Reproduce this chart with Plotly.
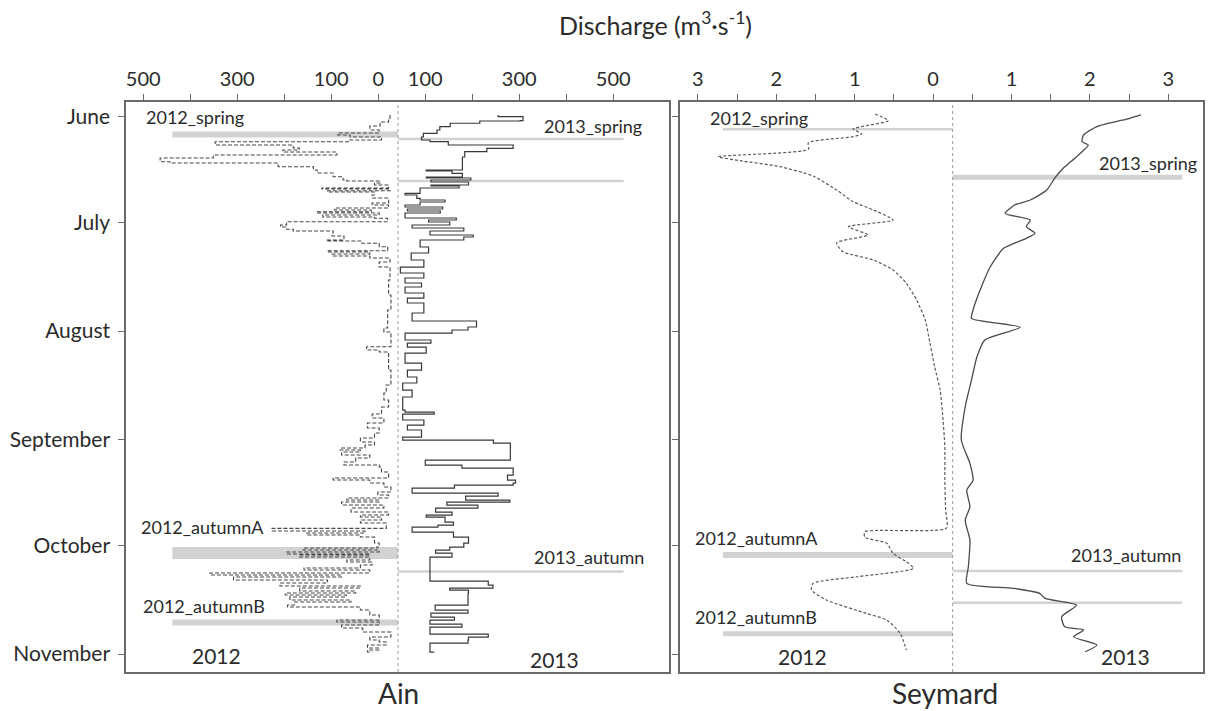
import plotly.graph_objects as go

# ---------------- data ----------------
months = ["June", "July", "August", "September", "October", "November"]
month_days = [0, 30, 61, 92, 122, 153]  # days since 1 June

# Ain 2012 (day since 1 June, discharge m3/s)
ain_2012_day = [-0.57, 0.57, 1.42, 2.56, 3.70, 4.56, 5.13, 5.70, 6.55, 7.04,
                7.98, 8.83, 9.40, 9.97, 10.83, 11.68, 12.74, 13.11, 14.16, 15.10,
                15.95, 17.01, 17.95, 18.23, 18.80, 19.37, 20.23, 20.51, 21.00, 21.37,
                22.22, 23.08, 24.50, 25.07, 25.93, 26.50, 26.98, 27.35, 27.92, 28.49,
                28.86, 29.83, 30.77, 31.34, 31.99, 32.48, 33.05, 33.90, 35.04, 35.33,
                35.98, 36.95, 38.09, 38.46, 39.03, 39.60, 40.17, 41.31, 42.74, 46.44,
                50.71, 54.99, 60.11, 61.25, 65.44, 66.38, 66.95, 72.08, 76.35, 78.63,
                80.63, 82.62, 84.62, 85.75, 87.18, 88.60, 90.03, 91.45, 92.59, 93.45,
                94.30, 94.87, 95.44, 96.30, 97.15, 98.29, 99.15, 99.72, 101.14, 102.85,
                103.42, 104.27, 105.41, 106.84, 107.69, 108.55, 109.12, 109.69, 110.54, 111.40,
                112.54, 113.39, 113.96, 114.81, 115.67, 117.18, 117.95, 118.52, 119.09, 119.66,
                121.37, 122.51, 122.79, 123.36, 123.93, 124.50, 124.79, 125.36, 126.21, 126.78,
                127.64, 128.49, 129.06, 129.91, 130.48, 131.05, 131.91, 132.76, 133.62, 134.19,
                135.04, 135.61, 136.18, 136.75, 137.61, 138.18, 139.03, 139.60, 140.46, 141.88,
                143.30, 143.87, 144.73, 145.58, 146.72, 148.15, 149.00, 149.57, 150.43, 151.28,
                151.85, 152.42]
ain_2012_q = [17, 20, 38, 60, 40, 128, 102, 35, 106, 389,
              223, 210, 245, 130, 393, 506, 485, 255, 180, 172,
              138, 117, 109, 38, 50, 20, 162, 17, 150, 50,
              55, 20, 55, 20, 135, 57, 173, 40, 160, 50,
              22, 237, 250, 237, 223, 138, 140, 115, 152, 77,
              40, 22, 150, 60, 140, 60, 17, 40, 17, 20,
              15, 22, 30, 15, 67, 40, 20, 15, 25, 30,
              20, 35, 55, 30, 65, 40, 50, 80, 50, 70,
              123, 80, 120, 60, 90, 115, 40, 35, 20, 138,
              60, 30, 15, 43, 20, 109, 40, 120, 30, 100,
              20, 80, 35, 80, 25, 268, 70, 194, 80, 50,
              40, 45, 202, 40, 237, 60, 210, 60, 109, 55,
              80, 200, 60, 400, 120, 350, 150, 251, 80, 209,
              90, 240, 110, 230, 100, 220, 235, 80, 60, 40,
              130, 40, 120, 75, 15, 60, 40, 25, 65, 40,
              65, 55]

# Ain 2013
ain_2013_day = [-0.57, -0.09, 1.05, 1.14, 1.79, 2.76, 3.70, 4.64, 5.70, 6.55,
                7.04, 7.98, 8.92, 9.89, 11.40, 14.25, 15.10, 15.38, 16.04, 17.09,
                17.38, 17.95, 18.52, 19.37, 19.66, 20.23, 21.74, 22.22, 23.16, 23.65,
                24.22, 25.07, 25.64, 26.21, 26.78, 27.35, 28.77, 29.34, 29.91, 30.77,
                31.62, 32.48, 33.62, 34.19, 35.04, 37.04, 38.75, 40.74, 42.74, 44.44,
                45.87, 47.29, 48.43, 50.14, 51.57, 52.99, 55.84, 57.26, 58.12, 59.83,
                60.68, 61.54, 63.53, 64.39, 65.53, 67.24, 70.09, 72.08, 74.07, 75.78,
                77.78, 79.77, 83.48, 84.05, 84.62, 86.32, 87.75, 89.17, 91.17, 92.02,
                92.88, 96.87, 97.72, 99.15, 100.00, 101.99, 103.42, 104.27, 104.84, 105.70,
                107.12, 107.98, 109.12, 109.69, 110.54, 111.40, 112.54, 113.39, 113.96, 115.38,
                116.24, 116.81, 118.23, 119.66, 121.37, 122.51, 123.36, 124.22, 125.36, 126.21,
                131.91, 132.19, 133.33, 134.19, 134.76, 135.61, 138.46, 139.03, 140.46, 141.31,
                142.45, 143.30, 144.44, 145.30, 146.15, 147.29, 148.15, 149.00, 149.86, 152.42]
ain_2013_q = [213, 266, 260, 174, 111, 89, 83, 54, 50, 68,
              107, 245, 189, 142, 137, 137, 60, 115, 137, 60,
              155, 70, 150, 70, 130, 47, 15, 40, 47, 100,
              47, 15, 95, 20, 90, 15, 124, 65, 110, 30,
              140, 68, 160, 140, 47, 65, 28, 55, 5, 55,
              15, 50, 15, 55, 20, 55, 30, 30, 167, 149,
              115, 15, 70, 20, 60, 15, 50, 20, 40, 10,
              30, 10, 15, 77, 10, 55, 20, 50, 10, 203,
              239, 239, 58, 136, 245, 233, 250, 245, 120, 30,
              213, 144, 238, 104, 170, 80, 115, 60, 100, 118,
              85, 30, 118, 150, 140, 110, 80, 115, 68, 68,
              68, 192, 202, 110, 150, 149, 149, 79, 149, 70,
              120, 68, 136, 68, 68, 192, 150, 149, 68, 77]

# Seymard 2012
sey_2012_day = [-0.85, 1.05, 3.42, 4.84, 5.61, 7.32, 9.20, 11.31, 12.45, 14.16,
                16.81, 20.80, 24.13, 26.50, 29.34, 31.25, 33.62, 35.81, 38.38, 40.74,
                43.59, 47.38, 52.14, 57.83, 64.39, 71.14, 77.78, 84.33, 94.0, 103.4,
                112.0, 117.1, 118.15, 119.74, 121.45, 124.30, 126.70, 128.58, 130.97, 132.85,
                134.76, 137.61, 141.40, 143.30, 147.09, 151.85]
sey_2012_q = [0.99, 0.82, 1.27, 1.16, 1.27, 1.84, 1.84, 2.99, 2.71, 2.20,
              1.78, 1.48, 1.27, 1.01, 0.76, 1.33, 1.08, 1.48, 1.40, 1.01,
              0.76, 0.59, 0.46, 0.35, 0.29, 0.23, 0.16, 0.13, 0.10, 0.10,
              0.09, 0.08, 1.12, 1.12, 0.84, 0.76, 0.59, 0.50, 1.22, 1.78,
              1.80, 1.61, 1.10, 0.84, 0.67, 0.59]

# Seymard 2013
sey_2013_day = [-0.57, 0.37, 2.76, 5.13, 7.04, 7.98, 11.31, 14.62, 17.46, 20.80,
                23.65, 25.07, 27.44, 29.34, 31.25, 33.13, 34.56, 37.41, 42.65, 49.29,
                54.99, 57.35, 59.91, 63.53, 68.29, 74.93, 82.54, 92.02, 98.66, 103.42,
                106.27, 111.03, 114.81, 120.51, 128.12, 132.85, 134.27, 135.70, 137.12, 139.03,
                142.36, 145.21, 146.15, 148.06, 150.43, 152.34]
sey_2013_q = [2.40, 2.26, 1.84, 1.67, 1.65, 1.73, 1.58, 1.41, 1.30, 1.20,
              0.99, 0.79, 0.67, 0.99, 0.94, 1.05, 0.94, 0.65, 0.48, 0.35,
              0.26, 0.24, 0.86, 0.41, 0.31, 0.24, 0.16, 0.11, 0.22, 0.26,
              0.18, 0.22, 0.16, 0.22, 0.20, 0.18, 0.77, 1.11, 1.18, 1.58,
              1.39, 1.43, 1.67, 1.54, 1.84, 1.69]

# sampling periods (day since 1 June, year)
ain_period_day = [5.0, 6.3, 18.2, 124.2, 129.5, 144.0]
ain_period_year = [2012, 2013, 2013, 2012, 2013, 2012]
sey_period_day = [3.5, 17.2, 124.8, 129.3, 138.4, 147.2]
sey_period_year = [2012, 2013, 2012, 2013, 2013, 2012]

# tick labels (labelled ticks and unlabelled minor ticks)
ain_tick_values = [-500, -300, -100, 0, 100, 300, 500]
ain_tick_text = ["500", "300", "100", "0", "100", "300", "500"]
ain_minor_values = [-400, -200, 200, 400]
sey_tick_values = [-3, -2, -1, 0, 1, 2, 3]
sey_tick_text = ["3", "2", "1", "0", "1", "2", "3"]
sey_minor_values = [-2.5, -1.5, -0.5, 0.5, 1.5, 2.5]

ain_labels = ["2012_spring", "2013_spring", "2012_autumnA", "2013_autumn", "2012_autumnB", "2012", "2013"]
sey_labels = ["2012_spring", "2013_spring", "2012_autumnA", "2013_autumn", "2012_autumnB", "2012", "2013"]

# ---------------- styling ----------------
FONT = "Lato"
TXT = "#2b2b2b"
BAR = "#d2d2d2"
AIN_EXTENT = 480
SEY_EXTENT = 2.93
AIN_TICK_SHIFT = -42
SEY_TICK_SHIFT = -0.25
ain_period_width = [6, 2.5, 2.5, 12, 2.5, 6]
sey_period_width = [2.5, 5, 6, 2.5, 2.5, 5]
ain_label_pos = [(-432, 0.0), (415, 2.6), (-415, 116.7), (406, 125.4), (-413, 139.3), (-387, 153.3), (334, 154.4)]
sey_label_pos = [(-2.47, 0.4), (2.49, 13.2), (-2.50, 120.0), (2.21, 124.8), (-2.51, 142.4), (-1.91, 153.8), (2.20, 153.8)]
label_size = [18, 18, 18, 18, 18, 21, 21]

fig = go.Figure()

# sampling period bars
for d, yr, w in zip(ain_period_day, ain_period_year, ain_period_width):
    sgn = -1 if yr == 2012 else 1
    fig.add_trace(go.Scatter(x=[0, sgn * AIN_EXTENT], y=[d, d], mode="lines",
                             line=dict(color=BAR, width=w), xaxis="x", yaxis="y",
                             hoverinfo="skip", showlegend=False))
for d, yr, w in zip(sey_period_day, sey_period_year, sey_period_width):
    sgn = -1 if yr == 2012 else 1
    fig.add_trace(go.Scatter(x=[0, sgn * SEY_EXTENT], y=[d, d], mode="lines",
                             line=dict(color=BAR, width=w), xaxis="x2", yaxis="y2",
                             hoverinfo="skip", showlegend=False))

# discharge series
fig.add_trace(go.Scatter(x=[-q for q in ain_2012_q], y=ain_2012_day, mode="lines",
                         line=dict(color="#474747", width=1.1, dash="4px,2px", shape="vh"),
                         xaxis="x", yaxis="y", showlegend=False, name="Ain 2012"))
fig.add_trace(go.Scatter(x=ain_2013_q, y=ain_2013_day, mode="lines",
                         line=dict(color="#383838", width=1.2, shape="vh"),
                         xaxis="x", yaxis="y", showlegend=False, name="Ain 2013"))
fig.add_trace(go.Scatter(x=[-q for q in sey_2012_q], y=sey_2012_day, mode="lines",
                         line=dict(color="#5a5a5a", width=1.2, dash="3px,2px", shape="spline", smoothing=0.6),
                         xaxis="x2", yaxis="y2", showlegend=False, name="Seymard 2012"))
fig.add_trace(go.Scatter(x=sey_2013_q, y=sey_2013_day, mode="lines",
                         line=dict(color="#4a4a4a", width=1.3, shape="spline", smoothing=0.6),
                         xaxis="x2", yaxis="y2", showlegend=False, name="Seymard 2013"))

# central dotted reference lines
fig.add_shape(type="line", x0=0, x1=0, y0=0, y1=1, xref="x", yref="y domain",
              line=dict(color="#9a9a9a", width=1, dash="dot"))
fig.add_shape(type="line", x0=0, x1=0, y0=0, y1=1, xref="x2", yref="y2 domain",
              line=dict(color="#9a9a9a", width=1, dash="dot"))

# period / year labels
for txt, (x, y), s in zip(ain_labels, ain_label_pos, label_size):
    fig.add_annotation(x=x, y=y, xref="x", yref="y", text=txt, showarrow=False,
                       font=dict(family=FONT, size=s, color=TXT), xanchor="center", yanchor="middle")
for txt, (x, y), s in zip(sey_labels, sey_label_pos, label_size):
    fig.add_annotation(x=x, y=y, xref="x2", yref="y2", text=txt, showarrow=False,
                       font=dict(family=FONT, size=s, color=TXT), xanchor="center", yanchor="middle")

# titles
fig.add_annotation(x=0.492, y=1.137, xref="paper", yref="paper",
                   text="Discharge (m<sup>3</sup>·s<sup>-1</sup>)", showarrow=False,
                   font=dict(family=FONT, size=25, color=TXT), xanchor="center", yanchor="middle")
fig.add_annotation(x=0.2526, y=-0.036, xref="paper", yref="paper", text="Ain", showarrow=False,
                   font=dict(family=FONT, size=28, color=TXT), xanchor="center", yanchor="middle")
fig.add_annotation(x=0.760, y=-0.036, xref="paper", yref="paper", text="Seymard", showarrow=False,
                   font=dict(family=FONT, size=28, color=TXT), xanchor="center", yanchor="middle")

axis_common = dict(showgrid=False, zeroline=False, showline=True, mirror=True, automargin=False,
                   linecolor="#6a6a6a", linewidth=1.5, ticks="outside", ticklen=6,
                   tickcolor="#6a6a6a", tickwidth=1)
minor_common = dict(ticks="outside", ticklen=6, tickcolor="#6a6a6a", tickwidth=1, showgrid=False)

# the page body adds an 8 px offset, so the figure is 8 px smaller on each axis
fig.update_layout(
    template="none",
    width=1211, height=703,
    margin=dict(l=118, r=16, t=94, b=39),
    paper_bgcolor="white", plot_bgcolor="white",
    font=dict(family=FONT, color=TXT),
    xaxis=dict(domain=[0, 0.5042], range=[-578.7, 576.6], side="top", anchor="y",
               tickmode="array", tickvals=[v + AIN_TICK_SHIFT for v in ain_tick_values],
               ticktext=ain_tick_text, tickfont=dict(family=FONT, size=20, color=TXT),
               minor=dict(tickmode="array", tickvals=[v + AIN_TICK_SHIFT for v in ain_minor_values], **minor_common),
               **axis_common),
    yaxis=dict(domain=[0, 1], range=[158.1, -4.27], anchor="x",
               tickmode="array", tickvals=month_days, ticktext=months,
               tickfont=dict(family=FONT, size=21, color=TXT), ticklabelstandoff=4,
               **axis_common),
    xaxis2=dict(domain=[0.5144, 1], range=[-3.478, 3.193], side="top", anchor="y2",
                tickmode="array", tickvals=[v + SEY_TICK_SHIFT for v in sey_tick_values],
                ticktext=sey_tick_text, tickfont=dict(family=FONT, size=20, color=TXT),
                minor=dict(tickmode="array", tickvals=[v + SEY_TICK_SHIFT for v in sey_minor_values], **minor_common),
                **axis_common),
    yaxis2=dict(domain=[0, 1], range=[158.1, -4.27], anchor="x2",
                tickmode="array", tickvals=month_days, showticklabels=False,
                **axis_common),
)

fig.write_html("out.html")
